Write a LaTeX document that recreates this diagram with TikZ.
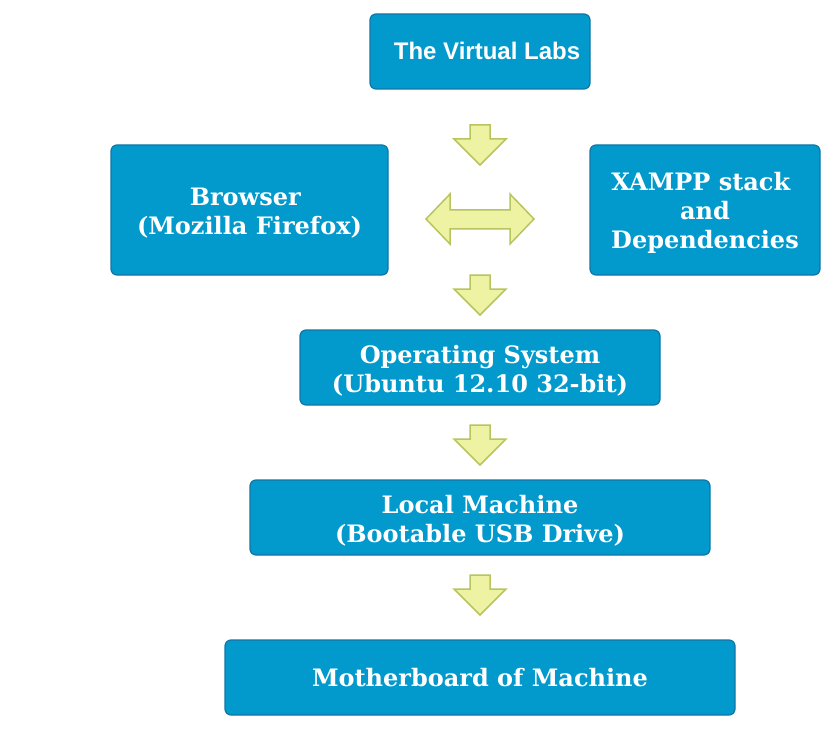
\documentclass[tikz,border=0pt]{standalone}
\usepackage{fontspec}
\setmainfont{DejaVu Serif}
\newfontfamily\labsfont{Liberation Sans}
\usepackage{xcolor}
\definecolor{boxblue}{RGB}{2,153,204}
\definecolor{boxedge}{RGB}{16,118,166}
\definecolor{arrfill}{RGB}{238,243,163}
\definecolor{arredge}{RGB}{184,196,94}
\newcommand\uplift{\rule{0pt}{24pt}}
\tikzset{
  layer/.style={draw=boxedge, line width=1.2pt, fill=boxblue, rounded corners=6pt,
    text=white, font=\bfseries\fontsize{24}{29}\selectfont, align=center, inner sep=0pt},
  blockarrow/.style={draw=arredge, line width=1.5pt, fill=arrfill, line join=miter}
}

\begin{document}
\begin{tikzpicture}[x=1pt,y=-1pt]
\useasboundingbox (0,0) rectangle (840,735);
% блоки
\node [layer, minimum width=220pt, minimum height=75pt] (labs) at (480,51.5) {};
\node [text=white, font=\labsfont\bfseries\fontsize{24}{29}\selectfont] (labstext) at (487,51) {The Virtual Labs};
\node [layer, minimum width=277pt, minimum height=130pt] (browser) at (249.5,210) {\uplift Browser\hspace*{0.35em}\\(Mozilla Firefox)};
\node [layer, minimum width=230pt, minimum height=130pt] (xampp) at (705,210) {\uplift XAMPP stack\hspace*{0.35em}\\and\\Dependencies};
\node [layer, minimum width=360pt, minimum height=75pt] (os) at (480,367.5) {\uplift Operating System\\(Ubuntu 12.10 32-bit)};
\node [layer, minimum width=460pt, minimum height=75pt] (local) at (480,517.5) {\uplift Local Machine\\(Bootable USB Drive)};
\node [layer, minimum width=510pt, minimum height=75pt] (board) at (480,677.5) {Motherboard of Machine};
% стрелки вниз
\foreach \y in {125,275,425,575}
  \draw [blockarrow] (470,\y) -- (490,\y) -- (490,\y+14) -- (506,\y+14)
    -- (480,\y+40) -- (454,\y+14) -- (470,\y+14) -- cycle;
% двойная стрелка
\draw [blockarrow] (426,219) -- (450,194) -- (450,210) -- (510,210) -- (510,194)
  -- (534,219) -- (510,244) -- (510,229) -- (450,229) -- (450,244) -- cycle;
\end{tikzpicture}
\end{document}
